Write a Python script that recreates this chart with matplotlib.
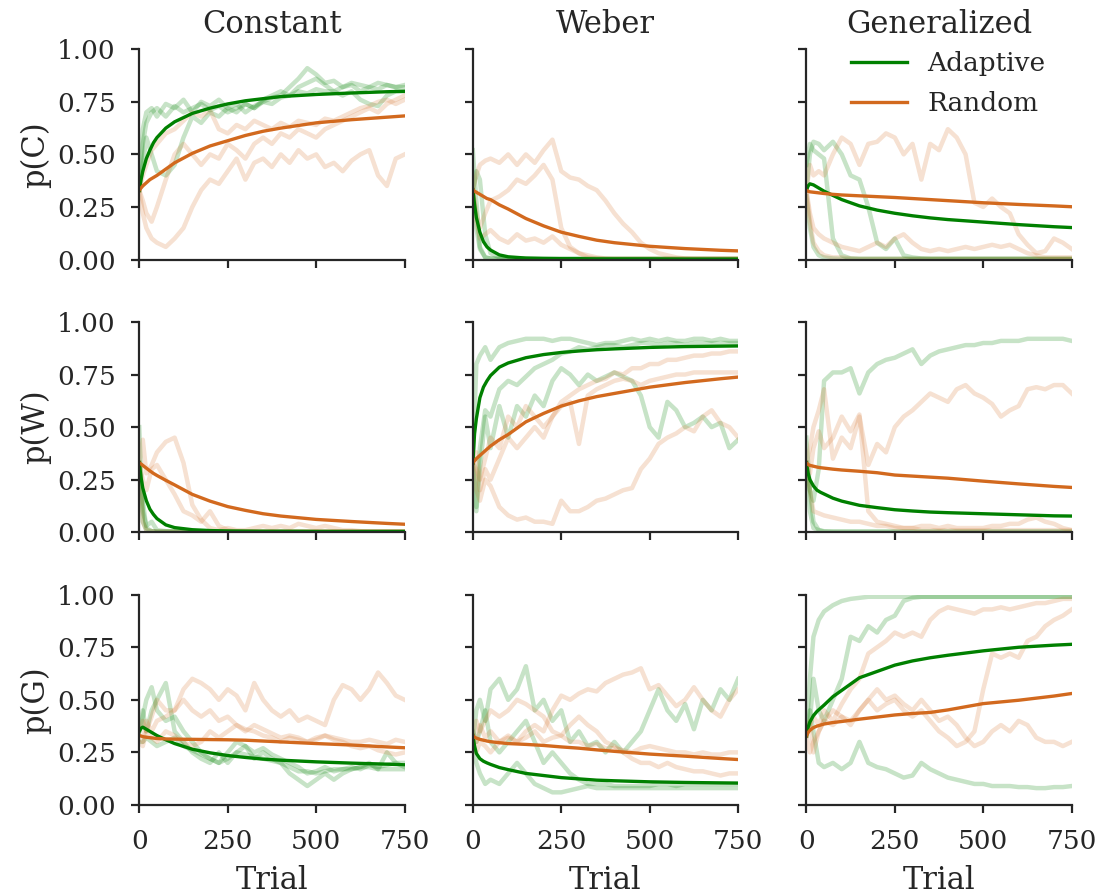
import numpy as np
import matplotlib
matplotlib.use("Agg")
import matplotlib.pyplot as plt

# ---------------- data ----------------
col_titles = ["Constant", "Weber", "Generalized"]
row_labels = ["p(C)", "p(W)", "p(G)"]
x_ticks = [0, 250, 500, 750]
y_ticks = [0.0, 0.25, 0.5, 0.75, 1.0]

# trials at which the mean curves were read
mean_trials = [0, 5, 10, 20, 30, 40, 50, 75, 100, 150, 200, 250, 300, 350, 400, 500, 600, 700, 750]
# trials at which the individual runs were read
run_trials = [0, 10, 20, 35, 50, 75, 100, 125, 150, 175, 200, 225, 250, 275, 300, 325,
              350, 375, 400, 425, 450, 475, 500, 525, 550, 575, 600, 625, 650, 675, 700, 725, 750]

# ---- mean curves (rows: p(C), p(W), p(G); cols: Constant, Weber, Generalized)
mean_adaptive_C_const = [0.33, 0.38, 0.42, 0.48, 0.52, 0.555, 0.58, 0.625, 0.655, 0.695, 0.72, 0.74, 0.755, 0.765, 0.775, 0.785, 0.792, 0.798, 0.80]
mean_random_C_const = [0.33, 0.34, 0.35, 0.365, 0.38, 0.39, 0.40, 0.43, 0.46, 0.505, 0.54, 0.565, 0.59, 0.61, 0.625, 0.65, 0.665, 0.677, 0.683]
mean_adaptive_C_weber = [0.33, 0.26, 0.20, 0.13, 0.085, 0.06, 0.045, 0.022, 0.013, 0.007, 0.005, 0.004, 0.004, 0.003, 0.003, 0.003, 0.002, 0.002, 0.002]
mean_random_C_weber = [0.33, 0.325, 0.32, 0.31, 0.30, 0.29, 0.285, 0.26, 0.24, 0.195, 0.16, 0.13, 0.11, 0.092, 0.08, 0.063, 0.052, 0.044, 0.041]
mean_adaptive_C_gen = [0.33, 0.35, 0.36, 0.355, 0.345, 0.335, 0.325, 0.305, 0.285, 0.255, 0.235, 0.22, 0.208, 0.198, 0.19, 0.178, 0.166, 0.156, 0.152]
mean_random_C_gen = [0.33, 0.325, 0.322, 0.32, 0.318, 0.316, 0.314, 0.31, 0.307, 0.303, 0.299, 0.295, 0.29, 0.285, 0.28, 0.27, 0.262, 0.255, 0.251]

mean_adaptive_W_const = [0.33, 0.26, 0.21, 0.15, 0.11, 0.085, 0.065, 0.035, 0.022, 0.012, 0.008, 0.006, 0.005, 0.004, 0.004, 0.003, 0.003, 0.003, 0.003]
mean_random_W_const = [0.33, 0.325, 0.318, 0.305, 0.292, 0.28, 0.27, 0.247, 0.225, 0.18, 0.148, 0.122, 0.104, 0.088, 0.077, 0.061, 0.051, 0.042, 0.038]
mean_adaptive_W_weber = [0.33, 0.47, 0.54, 0.64, 0.69, 0.72, 0.745, 0.785, 0.805, 0.83, 0.845, 0.855, 0.862, 0.868, 0.872, 0.879, 0.883, 0.885, 0.886]
mean_random_W_weber = [0.33, 0.34, 0.35, 0.365, 0.38, 0.395, 0.41, 0.44, 0.465, 0.525, 0.565, 0.60, 0.625, 0.645, 0.66, 0.69, 0.712, 0.73, 0.738]
mean_adaptive_W_gen = [0.33, 0.28, 0.25, 0.22, 0.20, 0.19, 0.182, 0.162, 0.148, 0.128, 0.117, 0.107, 0.101, 0.096, 0.093, 0.088, 0.083, 0.078, 0.077]
mean_random_W_gen = [0.33, 0.322, 0.318, 0.314, 0.31, 0.307, 0.305, 0.30, 0.296, 0.29, 0.283, 0.272, 0.267, 0.262, 0.257, 0.243, 0.23, 0.218, 0.213]

mean_adaptive_G_const = [0.35, 0.365, 0.37, 0.36, 0.35, 0.34, 0.33, 0.31, 0.292, 0.265, 0.248, 0.235, 0.226, 0.218, 0.213, 0.205, 0.199, 0.194, 0.191]
mean_random_G_const = [0.33, 0.328, 0.325, 0.322, 0.32, 0.318, 0.316, 0.314, 0.313, 0.312, 0.311, 0.31, 0.308, 0.304, 0.30, 0.292, 0.285, 0.276, 0.272]
mean_adaptive_G_weber = [0.33, 0.28, 0.245, 0.22, 0.208, 0.20, 0.193, 0.178, 0.168, 0.15, 0.14, 0.13, 0.124, 0.118, 0.115, 0.11, 0.107, 0.105, 0.104]
mean_random_G_weber = [0.33, 0.322, 0.318, 0.312, 0.308, 0.304, 0.301, 0.296, 0.292, 0.288, 0.283, 0.276, 0.27, 0.262, 0.255, 0.242, 0.232, 0.221, 0.216]
mean_adaptive_G_gen = [0.33, 0.37, 0.395, 0.425, 0.445, 0.46, 0.475, 0.515, 0.545, 0.605, 0.635, 0.665, 0.685, 0.70, 0.712, 0.733, 0.75, 0.76, 0.764]
mean_random_G_gen = [0.33, 0.345, 0.355, 0.368, 0.375, 0.38, 0.385, 0.392, 0.397, 0.408, 0.418, 0.428, 0.435, 0.44, 0.452, 0.482, 0.498, 0.518, 0.53]

# ---- individual runs (faint), 3 adaptive + 3 random per panel
# Constant, p(C)
runs_adaptive_C_const = [
    [0.33, 0.62, 0.70, 0.72, 0.68, 0.74, 0.72, 0.76, 0.70, 0.75, 0.73, 0.76, 0.72, 0.74, 0.70, 0.73, 0.75, 0.77, 0.78, 0.82, 0.86, 0.91, 0.88, 0.84, 0.85, 0.82, 0.83, 0.80, 0.82, 0.81, 0.83, 0.82, 0.82],
    [0.33, 0.55, 0.65, 0.70, 0.72, 0.68, 0.73, 0.70, 0.72, 0.74, 0.71, 0.73, 0.70, 0.72, 0.74, 0.72, 0.76, 0.78, 0.80, 0.78, 0.82, 0.84, 0.86, 0.83, 0.80, 0.82, 0.84, 0.83, 0.82, 0.84, 0.83, 0.82, 0.83],
    [0.33, 0.45, 0.58, 0.50, 0.42, 0.40, 0.45, 0.58, 0.68, 0.65, 0.70, 0.68, 0.72, 0.70, 0.74, 0.72, 0.75, 0.74, 0.77, 0.78, 0.80, 0.79, 0.81, 0.80, 0.80, 0.78, 0.80, 0.76, 0.74, 0.73, 0.78, 0.80, 0.80],
]
runs_random_C_const = [
    [0.33, 0.22, 0.15, 0.10, 0.08, 0.06, 0.10, 0.15, 0.25, 0.33, 0.38, 0.36, 0.42, 0.48, 0.38, 0.46, 0.48, 0.44, 0.50, 0.46, 0.52, 0.48, 0.50, 0.44, 0.46, 0.42, 0.47, 0.50, 0.52, 0.40, 0.35, 0.48, 0.50],
    [0.33, 0.28, 0.22, 0.18, 0.25, 0.38, 0.50, 0.55, 0.50, 0.45, 0.50, 0.48, 0.55, 0.52, 0.48, 0.55, 0.58, 0.55, 0.60, 0.58, 0.62, 0.60, 0.58, 0.62, 0.64, 0.66, 0.68, 0.70, 0.72, 0.70, 0.74, 0.76, 0.78],
    [0.33, 0.40, 0.45, 0.52, 0.55, 0.60, 0.62, 0.66, 0.70, 0.68, 0.71, 0.62, 0.60, 0.64, 0.62, 0.66, 0.64, 0.62, 0.65, 0.63, 0.66, 0.65, 0.64, 0.67, 0.66, 0.68, 0.70, 0.72, 0.73, 0.75, 0.76, 0.74, 0.76],
]
# Weber, p(C)
runs_adaptive_C_weber = [
    [0.52, 0.28, 0.06, 0.01, 0.005, 0.004, 0.003, 0.003, 0.003, 0.003, 0.003, 0.003, 0.003, 0.003, 0.003, 0.003, 0.003, 0.003, 0.003, 0.003, 0.003, 0.003, 0.003, 0.003, 0.003, 0.003, 0.003, 0.003, 0.003, 0.003, 0.003, 0.003, 0.003],
    [0.33, 0.42, 0.38, 0.12, 0.03, 0.01, 0.005, 0.003, 0.003, 0.003, 0.003, 0.003, 0.003, 0.003, 0.003, 0.003, 0.003, 0.003, 0.003, 0.003, 0.003, 0.003, 0.003, 0.003, 0.003, 0.003, 0.003, 0.003, 0.003, 0.003, 0.003, 0.003, 0.003],
    [0.33, 0.15, 0.05, 0.01, 0.005, 0.003, 0.003, 0.003, 0.003, 0.003, 0.003, 0.003, 0.003, 0.003, 0.003, 0.003, 0.003, 0.003, 0.003, 0.003, 0.003, 0.003, 0.003, 0.003, 0.003, 0.003, 0.003, 0.003, 0.003, 0.003, 0.003, 0.003, 0.003],
]
runs_random_C_weber = [
    [0.33, 0.40, 0.45, 0.47, 0.48, 0.46, 0.50, 0.45, 0.50, 0.46, 0.52, 0.57, 0.42, 0.39, 0.38, 0.35, 0.33, 0.28, 0.22, 0.17, 0.13, 0.08, 0.05, 0.03, 0.02, 0.01, 0.005, 0.003, 0.003, 0.003, 0.003, 0.003, 0.003],
    [0.33, 0.22, 0.15, 0.22, 0.28, 0.30, 0.33, 0.38, 0.36, 0.40, 0.45, 0.38, 0.15, 0.06, 0.03, 0.01, 0.005, 0.003, 0.003, 0.003, 0.003, 0.003, 0.003, 0.003, 0.003, 0.003, 0.003, 0.003, 0.003, 0.003, 0.003, 0.003, 0.003],
    [0.33, 0.18, 0.10, 0.12, 0.14, 0.10, 0.08, 0.12, 0.09, 0.10, 0.08, 0.11, 0.07, 0.05, 0.03, 0.02, 0.01, 0.005, 0.003, 0.003, 0.003, 0.003, 0.003, 0.003, 0.003, 0.003, 0.003, 0.003, 0.003, 0.003, 0.003, 0.003, 0.003],
]
# Generalized, p(C)
runs_adaptive_C_gen = [
    [0.33, 0.50, 0.56, 0.55, 0.52, 0.56, 0.50, 0.40, 0.38, 0.25, 0.08, 0.05, 0.10, 0.02, 0.01, 0.005, 0.003, 0.003, 0.003, 0.003, 0.003, 0.003, 0.003, 0.003, 0.003, 0.003, 0.003, 0.003, 0.003, 0.003, 0.003, 0.003, 0.003],
    [0.45, 0.55, 0.52, 0.50, 0.48, 0.10, 0.02, 0.005, 0.003, 0.003, 0.003, 0.003, 0.003, 0.003, 0.003, 0.003, 0.003, 0.003, 0.003, 0.003, 0.003, 0.003, 0.003, 0.003, 0.003, 0.003, 0.003, 0.003, 0.003, 0.003, 0.003, 0.003, 0.003],
    [0.30, 0.15, 0.06, 0.02, 0.01, 0.005, 0.003, 0.003, 0.003, 0.003, 0.003, 0.003, 0.003, 0.003, 0.003, 0.003, 0.003, 0.003, 0.003, 0.003, 0.003, 0.003, 0.003, 0.003, 0.003, 0.003, 0.003, 0.003, 0.003, 0.003, 0.003, 0.003, 0.003],
]
runs_random_C_gen = [
    [0.33, 0.45, 0.40, 0.42, 0.40, 0.50, 0.58, 0.55, 0.45, 0.55, 0.56, 0.60, 0.58, 0.50, 0.55, 0.38, 0.55, 0.52, 0.62, 0.58, 0.50, 0.27, 0.25, 0.29, 0.25, 0.22, 0.12, 0.07, 0.03, 0.04, 0.10, 0.08, 0.05],
    [0.33, 0.22, 0.15, 0.12, 0.10, 0.08, 0.06, 0.05, 0.04, 0.06, 0.08, 0.06, 0.10, 0.12, 0.08, 0.05, 0.04, 0.05, 0.04, 0.05, 0.06, 0.05, 0.06, 0.07, 0.06, 0.07, 0.05, 0.03, 0.02, 0.01, 0.01, 0.01, 0.01],
    [0.33, 0.18, 0.08, 0.04, 0.02, 0.01, 0.01, 0.005, 0.003, 0.003, 0.003, 0.003, 0.003, 0.003, 0.003, 0.003, 0.003, 0.003, 0.003, 0.003, 0.003, 0.003, 0.003, 0.003, 0.003, 0.003, 0.003, 0.003, 0.003, 0.003, 0.003, 0.003, 0.003],
]
# Constant, p(W)
runs_adaptive_W_const = [
    [0.50, 0.05, 0.01, 0.005, 0.003, 0.003, 0.003, 0.003, 0.003, 0.003, 0.003, 0.003, 0.003, 0.003, 0.003, 0.003, 0.003, 0.003, 0.003, 0.003, 0.003, 0.003, 0.003, 0.003, 0.003, 0.003, 0.003, 0.003, 0.003, 0.003, 0.003, 0.003, 0.003],
    [0.33, 0.10, 0.03, 0.05, 0.01, 0.005, 0.003, 0.003, 0.003, 0.003, 0.003, 0.003, 0.003, 0.003, 0.003, 0.003, 0.003, 0.003, 0.003, 0.003, 0.003, 0.003, 0.003, 0.003, 0.003, 0.003, 0.003, 0.003, 0.003, 0.003, 0.003, 0.003, 0.003],
    [0.33, 0.15, 0.02, 0.005, 0.003, 0.003, 0.003, 0.003, 0.003, 0.003, 0.003, 0.003, 0.003, 0.003, 0.003, 0.003, 0.003, 0.003, 0.003, 0.003, 0.003, 0.003, 0.003, 0.003, 0.003, 0.003, 0.003, 0.003, 0.003, 0.003, 0.003, 0.003, 0.003],
]
runs_random_W_const = [
    [0.33, 0.44, 0.28, 0.32, 0.38, 0.43, 0.45, 0.33, 0.13, 0.06, 0.02, 0.01, 0.02, 0.01, 0.01, 0.02, 0.03, 0.02, 0.03, 0.02, 0.04, 0.03, 0.02, 0.03, 0.02, 0.01, 0.01, 0.005, 0.003, 0.003, 0.003, 0.003, 0.003],
    [0.33, 0.25, 0.20, 0.30, 0.32, 0.25, 0.18, 0.10, 0.08, 0.05, 0.10, 0.03, 0.01, 0.005, 0.003, 0.003, 0.003, 0.003, 0.003, 0.003, 0.003, 0.003, 0.003, 0.003, 0.003, 0.003, 0.003, 0.003, 0.003, 0.003, 0.003, 0.003, 0.003],
    [0.33, 0.05, 0.01, 0.005, 0.003, 0.003, 0.003, 0.003, 0.003, 0.003, 0.003, 0.003, 0.003, 0.003, 0.003, 0.003, 0.003, 0.003, 0.003, 0.003, 0.003, 0.003, 0.003, 0.003, 0.003, 0.003, 0.003, 0.003, 0.003, 0.003, 0.003, 0.003, 0.003],
]
# Weber, p(W)
runs_adaptive_W_weber = [
    [0.33, 0.80, 0.84, 0.88, 0.82, 0.88, 0.90, 0.91, 0.92, 0.92, 0.92, 0.91, 0.92, 0.92, 0.91, 0.90, 0.89, 0.90, 0.90, 0.91, 0.92, 0.91, 0.92, 0.91, 0.92, 0.91, 0.91, 0.92, 0.92, 0.91, 0.92, 0.91, 0.91],
    [0.33, 0.12, 0.40, 0.58, 0.55, 0.68, 0.72, 0.70, 0.74, 0.78, 0.80, 0.82, 0.85, 0.86, 0.88, 0.87, 0.88, 0.89, 0.89, 0.88, 0.89, 0.90, 0.90, 0.89, 0.90, 0.90, 0.89, 0.90, 0.90, 0.90, 0.90, 0.90, 0.90],
    [0.33, 0.10, 0.30, 0.55, 0.40, 0.60, 0.45, 0.60, 0.55, 0.65, 0.60, 0.72, 0.78, 0.75, 0.70, 0.75, 0.72, 0.74, 0.76, 0.74, 0.72, 0.65, 0.50, 0.45, 0.62, 0.58, 0.50, 0.52, 0.55, 0.50, 0.52, 0.40, 0.44],
]
runs_random_W_weber = [
    [0.33, 0.30, 0.25, 0.35, 0.45, 0.40, 0.55, 0.50, 0.60, 0.55, 0.50, 0.55, 0.62, 0.65, 0.68, 0.70, 0.72, 0.73, 0.76, 0.75, 0.78, 0.78, 0.80, 0.80, 0.82, 0.82, 0.83, 0.84, 0.84, 0.85, 0.85, 0.86, 0.86],
    [0.33, 0.38, 0.20, 0.30, 0.25, 0.35, 0.45, 0.40, 0.45, 0.50, 0.45, 0.55, 0.60, 0.62, 0.42, 0.65, 0.68, 0.70, 0.72, 0.73, 0.72, 0.70, 0.72, 0.73, 0.74, 0.75, 0.75, 0.76, 0.76, 0.76, 0.76, 0.76, 0.76],
    [0.33, 0.20, 0.15, 0.25, 0.22, 0.12, 0.08, 0.06, 0.07, 0.05, 0.05, 0.04, 0.15, 0.10, 0.10, 0.12, 0.15, 0.16, 0.18, 0.20, 0.21, 0.30, 0.35, 0.42, 0.45, 0.47, 0.50, 0.48, 0.55, 0.58, 0.52, 0.50, 0.45],
]
# Generalized, p(W)
runs_adaptive_W_gen = [
    [0.33, 0.20, 0.15, 0.30, 0.72, 0.76, 0.76, 0.78, 0.66, 0.76, 0.80, 0.82, 0.83, 0.85, 0.87, 0.80, 0.84, 0.86, 0.87, 0.88, 0.89, 0.89, 0.90, 0.90, 0.91, 0.91, 0.91, 0.92, 0.92, 0.92, 0.92, 0.92, 0.91],
    [0.45, 0.20, 0.05, 0.01, 0.005, 0.003, 0.003, 0.003, 0.003, 0.003, 0.003, 0.003, 0.003, 0.003, 0.003, 0.003, 0.003, 0.003, 0.003, 0.003, 0.003, 0.003, 0.003, 0.003, 0.003, 0.003, 0.003, 0.003, 0.003, 0.003, 0.003, 0.003, 0.003],
    [0.33, 0.10, 0.02, 0.01, 0.003, 0.003, 0.003, 0.003, 0.003, 0.003, 0.003, 0.003, 0.003, 0.003, 0.003, 0.003, 0.003, 0.003, 0.003, 0.003, 0.003, 0.003, 0.003, 0.003, 0.003, 0.003, 0.003, 0.003, 0.003, 0.003, 0.003, 0.003, 0.003],
]
runs_random_W_gen = [
    [0.33, 0.40, 0.50, 0.58, 0.68, 0.35, 0.45, 0.40, 0.55, 0.32, 0.42, 0.38, 0.50, 0.55, 0.58, 0.62, 0.66, 0.64, 0.62, 0.68, 0.70, 0.66, 0.64, 0.61, 0.55, 0.58, 0.60, 0.68, 0.69, 0.68, 0.70, 0.70, 0.66],
    [0.33, 0.28, 0.40, 0.48, 0.40, 0.45, 0.55, 0.48, 0.56, 0.10, 0.05, 0.04, 0.03, 0.02, 0.02, 0.01, 0.01, 0.01, 0.01, 0.01, 0.01, 0.01, 0.01, 0.01, 0.01, 0.01, 0.01, 0.01, 0.01, 0.01, 0.01, 0.01, 0.01],
    [0.33, 0.20, 0.10, 0.09, 0.08, 0.07, 0.06, 0.05, 0.05, 0.04, 0.03, 0.03, 0.02, 0.02, 0.02, 0.03, 0.03, 0.02, 0.03, 0.02, 0.02, 0.02, 0.02, 0.03, 0.03, 0.04, 0.04, 0.06, 0.07, 0.05, 0.04, 0.02, 0.01],
]
# Constant, p(G)
runs_adaptive_G_const = [
    [0.35, 0.45, 0.35, 0.45, 0.50, 0.58, 0.35, 0.30, 0.25, 0.22, 0.20, 0.25, 0.20, 0.25, 0.28, 0.22, 0.25, 0.22, 0.20, 0.15, 0.12, 0.09, 0.12, 0.15, 0.12, 0.15, 0.17, 0.18, 0.20, 0.17, 0.25, 0.20, 0.18],
    [0.35, 0.42, 0.50, 0.56, 0.45, 0.40, 0.42, 0.35, 0.30, 0.25, 0.22, 0.20, 0.25, 0.30, 0.28, 0.25, 0.27, 0.24, 0.22, 0.20, 0.18, 0.15, 0.16, 0.18, 0.16, 0.17, 0.18, 0.17, 0.19, 0.18, 0.19, 0.20, 0.20],
    [0.30, 0.30, 0.32, 0.30, 0.28, 0.30, 0.32, 0.28, 0.26, 0.24, 0.22, 0.20, 0.22, 0.25, 0.24, 0.23, 0.22, 0.21, 0.20, 0.18, 0.16, 0.16, 0.15, 0.16, 0.17, 0.17, 0.17, 0.18, 0.18, 0.17, 0.17, 0.17, 0.17],
]
runs_random_G_const = [
    [0.35, 0.40, 0.35, 0.42, 0.50, 0.45, 0.45, 0.55, 0.60, 0.58, 0.55, 0.50, 0.55, 0.52, 0.45, 0.58, 0.50, 0.45, 0.42, 0.45, 0.40, 0.42, 0.40, 0.38, 0.50, 0.57, 0.55, 0.50, 0.55, 0.63, 0.58, 0.52, 0.50],
    [0.33, 0.30, 0.40, 0.35, 0.40, 0.42, 0.45, 0.50, 0.45, 0.42, 0.45, 0.40, 0.42, 0.38, 0.35, 0.38, 0.36, 0.34, 0.32, 0.33, 0.32, 0.30, 0.31, 0.33, 0.32, 0.31, 0.30, 0.30, 0.31, 0.30, 0.29, 0.31, 0.30],
    [0.30, 0.28, 0.35, 0.32, 0.30, 0.35, 0.33, 0.30, 0.28, 0.30, 0.35, 0.32, 0.35, 0.38, 0.36, 0.35, 0.33, 0.32, 0.30, 0.32, 0.31, 0.30, 0.32, 0.33, 0.31, 0.30, 0.28, 0.27, 0.28, 0.26, 0.25, 0.24, 0.25],
]
# Weber, p(G)
runs_adaptive_G_weber = [
    [0.30, 0.45, 0.50, 0.40, 0.55, 0.60, 0.50, 0.55, 0.66, 0.45, 0.50, 0.40, 0.45, 0.30, 0.35, 0.28, 0.30, 0.25, 0.30, 0.25, 0.30, 0.35, 0.45, 0.55, 0.45, 0.40, 0.48, 0.36, 0.50, 0.45, 0.55, 0.50, 0.60],
    [0.30, 0.20, 0.15, 0.10, 0.12, 0.10, 0.15, 0.20, 0.15, 0.10, 0.08, 0.06, 0.06, 0.07, 0.08, 0.09, 0.08, 0.08, 0.08, 0.08, 0.08, 0.08, 0.08, 0.08, 0.08, 0.08, 0.08, 0.08, 0.08, 0.08, 0.08, 0.08, 0.08],
    [0.35, 0.30, 0.35, 0.45, 0.30, 0.25, 0.30, 0.35, 0.40, 0.30, 0.20, 0.25, 0.20, 0.15, 0.12, 0.10, 0.10, 0.10, 0.09, 0.09, 0.09, 0.09, 0.09, 0.10, 0.10, 0.09, 0.10, 0.10, 0.10, 0.10, 0.10, 0.10, 0.10],
]
runs_random_G_weber = [
    [0.33, 0.30, 0.38, 0.32, 0.35, 0.30, 0.32, 0.30, 0.35, 0.38, 0.35, 0.45, 0.52, 0.50, 0.53, 0.55, 0.54, 0.58, 0.60, 0.62, 0.63, 0.65, 0.55, 0.57, 0.52, 0.47, 0.50, 0.56, 0.50, 0.45, 0.42, 0.50, 0.55],
    [0.33, 0.40, 0.35, 0.40, 0.45, 0.42, 0.45, 0.50, 0.48, 0.45, 0.42, 0.35, 0.33, 0.38, 0.42, 0.38, 0.35, 0.30, 0.28, 0.25, 0.22, 0.20, 0.20, 0.18, 0.20, 0.18, 0.17, 0.16, 0.16, 0.15, 0.14, 0.15, 0.15],
    [0.33, 0.25, 0.30, 0.28, 0.25, 0.30, 0.33, 0.30, 0.32, 0.35, 0.30, 0.32, 0.33, 0.30, 0.30, 0.28, 0.29, 0.27, 0.27, 0.26, 0.25, 0.27, 0.28, 0.27, 0.26, 0.25, 0.25, 0.24, 0.25, 0.24, 0.24, 0.25, 0.25],
]
# Generalized, p(G)
runs_adaptive_G_gen = [
    [0.33, 0.60, 0.80, 0.88, 0.92, 0.95, 0.97, 0.98, 0.985, 0.99, 0.99, 0.99, 0.99, 0.99, 0.99, 0.99, 0.99, 0.99, 0.99, 0.99, 0.99, 0.99, 0.99, 0.99, 0.99, 0.99, 0.99, 0.99, 0.99, 0.99, 0.99, 0.99, 0.99],
    [0.33, 0.40, 0.60, 0.45, 0.40, 0.50, 0.60, 0.80, 0.78, 0.85, 0.82, 0.88, 0.90, 0.97, 0.985, 0.99, 0.99, 0.99, 0.99, 0.99, 0.99, 0.99, 0.99, 0.99, 0.99, 0.99, 0.99, 0.99, 0.99, 0.99, 0.99, 0.99, 0.99],
    [0.33, 0.45, 0.35, 0.20, 0.18, 0.20, 0.17, 0.20, 0.30, 0.20, 0.18, 0.17, 0.15, 0.13, 0.14, 0.20, 0.17, 0.15, 0.13, 0.12, 0.11, 0.10, 0.10, 0.09, 0.09, 0.09, 0.085, 0.085, 0.08, 0.08, 0.085, 0.085, 0.09],
]
runs_random_G_gen = [
    [0.33, 0.38, 0.42, 0.38, 0.45, 0.40, 0.48, 0.55, 0.60, 0.72, 0.75, 0.78, 0.82, 0.80, 0.82, 0.80, 0.88, 0.92, 0.94, 0.93, 0.92, 0.91, 0.93, 0.93, 0.94, 0.93, 0.94, 0.95, 0.96, 0.96, 0.97, 0.98, 0.98],
    [0.33, 0.25, 0.30, 0.35, 0.40, 0.38, 0.42, 0.40, 0.45, 0.50, 0.45, 0.48, 0.50, 0.45, 0.42, 0.45, 0.40, 0.35, 0.32, 0.28, 0.30, 0.35, 0.55, 0.72, 0.70, 0.72, 0.70, 0.78, 0.80, 0.85, 0.88, 0.90, 0.93],
    [0.33, 0.40, 0.25, 0.35, 0.40, 0.45, 0.42, 0.38, 0.45, 0.50, 0.55, 0.50, 0.52, 0.48, 0.45, 0.50, 0.45, 0.40, 0.42, 0.38, 0.32, 0.28, 0.30, 0.35, 0.38, 0.35, 0.40, 0.38, 0.32, 0.30, 0.30, 0.28, 0.30],
]

mean_adaptive = [[mean_adaptive_C_const, mean_adaptive_C_weber, mean_adaptive_C_gen],
                 [mean_adaptive_W_const, mean_adaptive_W_weber, mean_adaptive_W_gen],
                 [mean_adaptive_G_const, mean_adaptive_G_weber, mean_adaptive_G_gen]]
mean_random = [[mean_random_C_const, mean_random_C_weber, mean_random_C_gen],
               [mean_random_W_const, mean_random_W_weber, mean_random_W_gen],
               [mean_random_G_const, mean_random_G_weber, mean_random_G_gen]]
runs_adaptive = [[runs_adaptive_C_const, runs_adaptive_C_weber, runs_adaptive_C_gen],
                 [runs_adaptive_W_const, runs_adaptive_W_weber, runs_adaptive_W_gen],
                 [runs_adaptive_G_const, runs_adaptive_G_weber, runs_adaptive_G_gen]]
runs_random = [[runs_random_C_const, runs_random_C_weber, runs_random_C_gen],
               [runs_random_W_const, runs_random_W_weber, runs_random_W_gen],
               [runs_random_G_const, runs_random_G_weber, runs_random_G_gen]]

# ---------------- style ----------------
TEXT = "#262626"
plt.rcParams.update({
    "font.family": ["DejaVu Serif"],
    "text.color": TEXT,
    "axes.labelcolor": TEXT,
    "axes.edgecolor": TEXT,
    "xtick.color": TEXT,
    "ytick.color": TEXT,
    "axes.linewidth": 1.6,
    "xtick.major.width": 1.6,
    "ytick.major.width": 1.6,
    "xtick.major.size": 6,
    "ytick.major.size": 6,
    "xtick.major.pad": 11,
    "ytick.major.pad": 11,
    "xtick.labelsize": 19,
    "ytick.labelsize": 19,
})

GREEN = "green"
ORANGE = "chocolate"

fig, axes = plt.subplots(3, 3, figsize=(11, 8.94), dpi=100, sharex=True, sharey=True)
fig.subplots_adjust(left=0.1266, right=0.9743, top=0.9449, bottom=0.0996,
                    wspace=0.257, hspace=0.297)

for r in range(3):
    for c in range(3):
        ax = axes[r][c]
        for run in runs_adaptive[r][c]:
            ax.plot(run_trials, run, color=GREEN, alpha=0.22, lw=3.2, solid_joinstyle="round")
        for run in runs_random[r][c]:
            ax.plot(run_trials, run, color=ORANGE, alpha=0.2, lw=3.2, solid_joinstyle="round")
        la, = ax.plot(mean_trials, mean_adaptive[r][c], color=GREEN, lw=2.4, label="Adaptive")
        lr, = ax.plot(mean_trials, mean_random[r][c], color=ORANGE, lw=2.4, label="Random")
        ax.set_xlim(0, 750)
        ax.set_ylim(0, 1)
        ax.set_xticks(x_ticks)
        ax.set_yticks(y_ticks)
        ax.set_yticklabels([f"{v:.2f}" for v in y_ticks])
        for s in ["top", "right"]:
            ax.spines[s].set_visible(False)
        if r == 0:
            ax.set_title(col_titles[c], fontsize=22, pad=12)
        if c == 0:
            ax.set_ylabel(row_labels[r], fontsize=22, labelpad=4)
        if r == 2:
            ax.set_xlabel("Trial", fontsize=22, labelpad=8)
        if r == 0 and c == 2:
            ax.legend(handles=[la, lr], loc="upper right", frameon=False, fontsize=19,
                      handlelength=2.12, handletextpad=0.76, borderaxespad=0.0,
                      bbox_to_anchor=(0.94, 1.04), labelspacing=0.55)

fig.savefig("out.png", dpi=100)
